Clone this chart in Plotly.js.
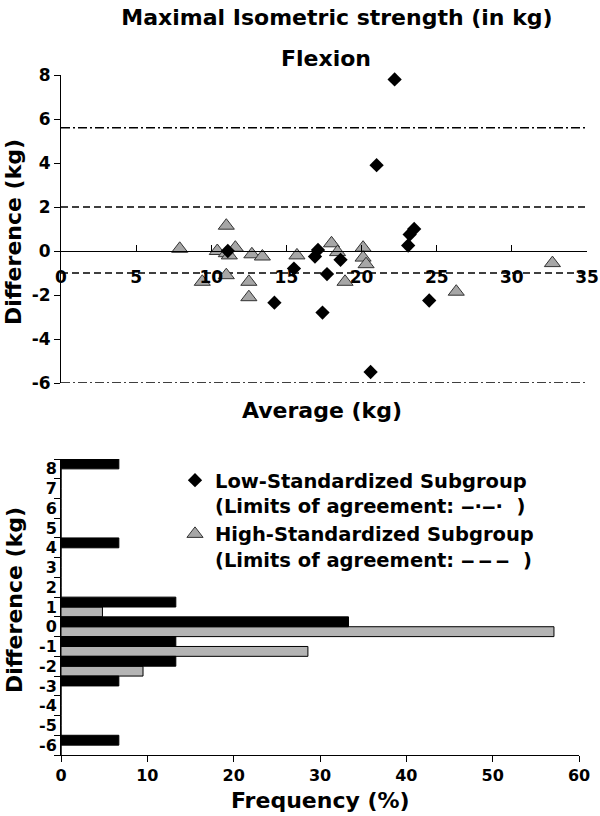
<!DOCTYPE html>
<html><head><meta charset="utf-8">
<script src="https://cdn.plot.ly/plotly-3.0.1.min.js"></script>
<style>html,body{margin:0;padding:0;background:#fff}</style>
</head><body><div id="chart" style="width:600px;height:816px"></div>
<script>
// Bland-Altman scatter (Average vs Difference), kg
const lowAvg  = [22.2, 21.0, 23.5, 23.2, 23.1, 11.1, 17.1, 16.9, 18.6, 17.7, 15.5, 14.2, 17.4, 24.5, 20.6];
const lowDiff = [7.8, 3.9, 1.0, 0.75, 0.25, 0.0, 0.05, -0.25, -0.4, -1.05, -0.8, -2.35, -2.8, -2.25, -5.5];
const highAvg  = [7.9, 9.4, 10.4, 11.0, 11.0, 11.0, 11.2, 11.6, 12.7, 12.5, 12.5, 13.4, 15.7, 18.0, 18.4, 20.1, 20.1, 20.3, 18.9, 26.3, 32.7];
const highDiff = [0.1, -1.4, 0.0, 1.15, -0.1, -1.1, -0.2, 0.15, -0.15, -1.4, -2.1, -0.25, -0.2, 0.35, -0.05, 0.15, -0.3, -0.6, -1.4, -1.85, -0.55];
const lowLimits = [5.6, -6.0];
const highLimits = [2.0, -1.0];
const avgRange = [0, 35];
const avgTicks = [0, 5, 10, 15, 20, 25, 30, 35];
const diffTicks = [-6, -4, -2, 0, 2, 4, 6, 8];
const diffTickLabels = ['-6', '-4', '-2', '0', '2', '4', '6', '8'];

// Histogram of differences (frequency %)
const diffBins = ['8','7','6','5','4','3','2','1','0','-1','-2','-3','-4','-5','-6'];
const lowFreq  = [6.7, 0, 0, 0, 6.7, 0, 0, 13.3, 33.3, 13.3, 13.3, 6.7, 0, 0, 6.7];
const highFreq = [0, 0, 0, 0, 0, 0, 0, 4.8, 57.1, 28.6, 9.5, 0, 0, 0, 0];
const freqRange = [0, 60];

const FONT = 'DejaVu Sans, Liberation Sans, Arial, sans-serif';
const bold = s => '<b>' + s + '</b>';

const traces = [];
lowLimits.forEach(v => traces.push({
  type: 'scatter', mode: 'lines', x: avgRange, y: [v, v], xaxis: 'x', yaxis: 'y',
  line: {color: '#000', width: 1.4, dash: '9px,3px,2px,3px'}, showlegend: false, hoverinfo: 'skip'
}));
highLimits.forEach(v => traces.push({
  type: 'scatter', mode: 'lines', x: avgRange, y: [v, v], xaxis: 'x', yaxis: 'y',
  line: {color: '#000', width: 1.4, dash: '7px,4px'}, showlegend: false, hoverinfo: 'skip'
}));
traces.push({
  type: 'scatter', mode: 'markers', x: highAvg, y: highDiff, xaxis: 'x', yaxis: 'y',
  name: bold('High-Standardized Subgroup') + '<br>' + bold('(Limits of agreement: \u2012\u2009\u2012\u2009\u2012\u00a0\u00a0)'),
  legendrank: 2, cliponaxis: false,
  marker: {symbol: 'triangle-up', size: 14, color: '#a6a6a6', line: {color: '#333', width: 1}}
});
traces.push({
  type: 'scatter', mode: 'markers', x: lowAvg, y: lowDiff, xaxis: 'x', yaxis: 'y',
  name: bold('Low-Standardized Subgroup') + '<br>' + bold('(Limits of agreement: \u2012·\u2012·\u00a0\u00a0)'),
  legendrank: 1, cliponaxis: false,
  marker: {symbol: 'diamond', size: 11, color: '#000', line: {color: '#000', width: 0}}
});
traces.push({
  type: 'bar', orientation: 'h', x: highFreq, y: diffBins, xaxis: 'x2', yaxis: 'y2',
  marker: {color: '#b4b4b4', line: {color: '#000', width: 1}}, showlegend: false, hoverinfo: 'skip'
});
traces.push({
  type: 'bar', orientation: 'h', x: lowFreq, y: diffBins, xaxis: 'x2', yaxis: 'y2',
  marker: {color: '#000', line: {color: '#000', width: 1}}, showlegend: false, hoverinfo: 'skip'
});

const L = 61, R = 13, T = 75, B = 61, W = 600, H = 816;
const pw = W - L - R, ph = H - T - B;
const px2x = p => (p - L) / pw;
const py2y = p => (H - B - p) / ph;
const topDom = [py2y(383), 1];
const botDom = [0, py2y(459)];
const zeroPos = topDom[0] + (topDom[1] - topDom[0]) * 6 / 14;

const tickFontTop = {family: FONT, size: 17, color: '#000', weight: 'bold'};
const tickFontBot = {family: FONT, size: 16, color: '#000', weight: 'bold'};
const titleFont = {family: FONT, size: 22, color: '#000', weight: 'bold'};

const layout = {
  width: W, height: H,
  margin: {l: L, r: R, t: T, b: B},
  paper_bgcolor: '#fff', plot_bgcolor: 'rgba(0,0,0,0)',
  font: {family: FONT, color: '#000'},
  title: {text: bold('Maximal Isometric strength (in kg)'), font: titleFont,
          xref: 'container', x: 337 / W, xanchor: 'center',
          yref: 'container', y: 1 - 17 / H, yanchor: 'middle'},
  barmode: 'group', bargap: 0, bargroupgap: 0,
  showlegend: true,
  legend: {x: px2x(175), xanchor: 'left', y: py2y(461), yanchor: 'top',
           font: {family: FONT, size: 19.5, color: '#000'}, valign: 'top',
           bgcolor: 'rgba(0,0,0,0)', borderwidth: 0, tracegroupgap: 0, traceorder: 'normal'},
  xaxis: {domain: [0, 1], range: avgRange, anchor: 'free', position: zeroPos,
          tickvals: avgTicks, ticks: 'inside', ticklen: 6, tickcolor: '#000', tickwidth: 1,
          showline: true, linecolor: '#000', linewidth: 1, showgrid: false, zeroline: false,
          tickfont: tickFontTop, ticklabelstandoff: 11, fixedrange: true},
  yaxis: {domain: topDom, range: [-6, 8], anchor: 'x', tickvals: diffTicks, ticktext: diffTickLabels,
          ticks: 'outside', ticklen: 6, tickcolor: '#000', tickwidth: 1,
          showline: true, linecolor: '#000', linewidth: 1, showgrid: false, zeroline: false,
          tickfont: tickFontTop, fixedrange: true},
  xaxis2: {domain: [0, px2x(579)], range: freqRange, anchor: 'y2', dtick: 10,
           ticks: 'outside', ticklen: 6, tickcolor: '#000', tickwidth: 1,
           showline: true, linecolor: '#000', linewidth: 1, showgrid: false, zeroline: false,
           tickfont: tickFontBot, fixedrange: true},
  yaxis2: {domain: botDom, anchor: 'x2', type: 'category',
           categoryorder: 'array', categoryarray: diffBins.slice().reverse(),
           tickson: 'boundaries', ticks: 'outside', ticklen: 6, tickcolor: '#000', tickwidth: 1,
           showline: true, linecolor: '#000', linewidth: 1, showgrid: false, zeroline: false,
           tickfont: tickFontBot, fixedrange: true},
  annotations: [
    {text: bold('Flexion'), xref: 'paper', yref: 'paper', x: px2x(326), y: py2y(58),
     xanchor: 'center', yanchor: 'middle', showarrow: false, font: titleFont},
    {text: bold('Average (kg)'), xref: 'paper', yref: 'paper', x: px2x(322), y: py2y(410),
     xanchor: 'center', yanchor: 'middle', showarrow: false, font: titleFont},
    {text: bold('Frequency (%)'), xref: 'paper', yref: 'paper', x: px2x(320), y: py2y(800),
     xanchor: 'center', yanchor: 'middle', showarrow: false, font: titleFont},
    {text: bold('Difference (kg)'), xref: 'paper', yref: 'paper', x: px2x(14), y: py2y(232),
     xanchor: 'center', yanchor: 'middle', showarrow: false, textangle: -90, font: titleFont},
    {text: bold('Difference (kg)'), xref: 'paper', yref: 'paper', x: px2x(14), y: py2y(600),
     xanchor: 'center', yanchor: 'middle', showarrow: false, textangle: -90, font: titleFont}
  ]
};

Plotly.newPlot('chart', traces, layout, {staticPlot: true, displayModeBar: false});
</script></body></html>
